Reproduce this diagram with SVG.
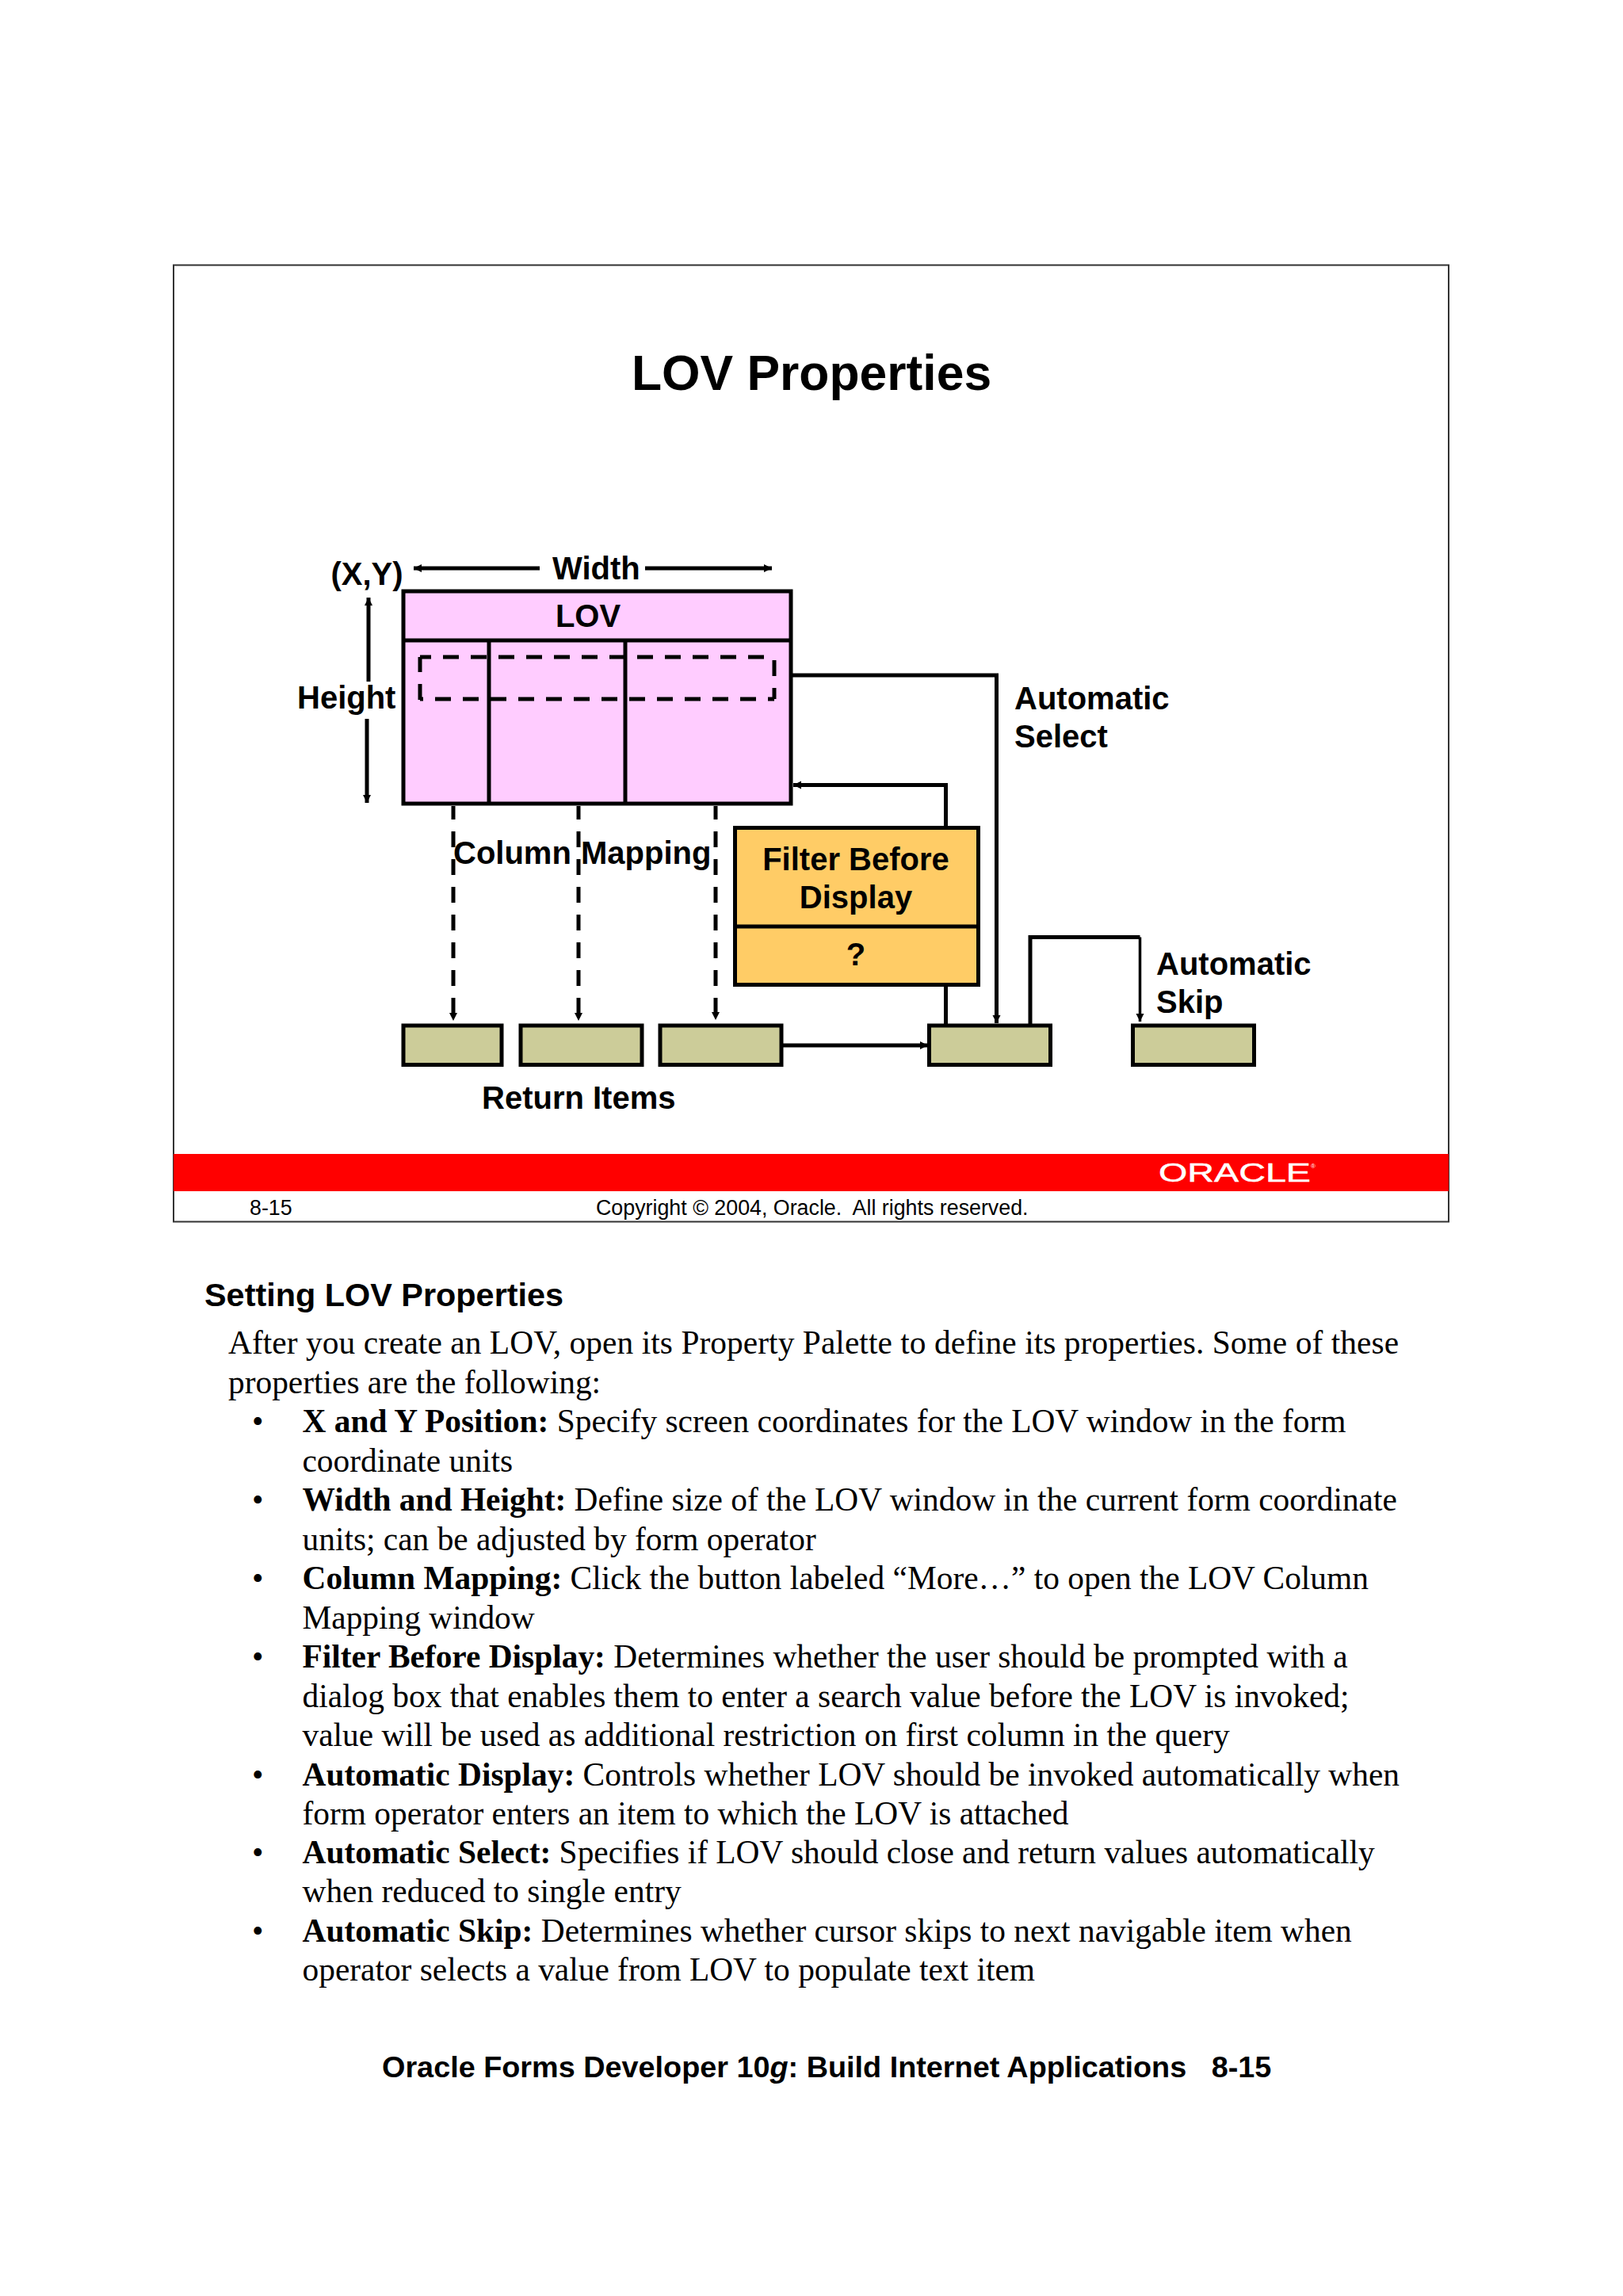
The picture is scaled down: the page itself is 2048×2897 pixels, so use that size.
<svg xmlns="http://www.w3.org/2000/svg" width="2048" height="2897" viewBox="0 0 2048 2897">
<style>
.l{font:bold 40px "Liberation Sans",Arial,sans-serif;fill:#000}
.m{text-anchor:middle}
.b{font:41.4px "Liberation Serif","Times New Roman",serif;fill:#000}
.b tspan.k{font-weight:bold}
.f{font:26.8px "Liberation Sans",Arial,sans-serif;fill:#000}
.s{fill:none;stroke:#000;stroke-width:5}
.t{fill:none;stroke:#000;stroke-width:5}
.n{fill:none;stroke:#000;stroke-width:3.500}
.d{fill:none;stroke:#000;stroke-width:5;stroke-dasharray:20 15}
.box{stroke:#000;stroke-width:5}
.item{fill:#CCCC99;stroke:#000;stroke-width:5}
</style>
<defs>
<marker id="a" markerUnits="userSpaceOnUse" markerWidth="12" markerHeight="12" refX="10" refY="5" orient="auto-start-reverse"><path d="M0 0L10 5L0 10Z" fill="#000"/></marker>
</defs>
<rect width="2048" height="2897" fill="#fff"/>
<g id="slide">
<rect x="219" y="334.500" width="1609" height="1207" fill="#fff" stroke="#333" stroke-width="2"/>
<rect x="219" y="1456" width="1609" height="47" fill="#f00"/>
<text x="1462" y="1491" font-family="Liberation Sans, Arial, sans-serif" font-size="34" fill="#fff" stroke="#fff" stroke-width="0.500" textLength="192" lengthAdjust="spacingAndGlyphs">ORACLE</text>
<text x="1654" y="1474" font-family="Liberation Sans, Arial, sans-serif" font-size="8" fill="#fff">®</text>
<text x="1024" y="492" class="m" font-family="Liberation Sans, Arial, sans-serif" font-weight="bold" font-size="62.400">LOV Properties</text>
<text x="315" y="1533" class="f">8-15</text>
<text x="752" y="1533" class="f">Copyright © 2004, Oracle.&#160; All rights reserved.</text>
</g>
<g id="lov">
<rect x="509" y="746" width="489" height="268" fill="#FFCCFF" class="box"/>
<path class="s" d="M509 808H998M617 808V1014M789 808V1014"/>
<path class="d" d="M530 883V829"/>
<path class="d" stroke-dashoffset="6" d="M530 829H977"/>
<path class="d" stroke-dashoffset="31" d="M977 829V882"/>
<path class="d" stroke-dashoffset="12" d="M977 882H530"/>
<text x="742" y="791" class="l m">LOV</text>
</g>
<g id="filter">
<rect x="927.500" y="1044.500" width="307" height="198" fill="#FFCC66" class="box"/>
<path class="s" d="M927.500 1169H1234.500"/>
<text x="1080" y="1098" class="l m">Filter Before</text>
<text x="1080" y="1146" class="l m">Display</text>
<text x="1080" y="1218" class="l m">?</text>
</g>
<g id="item1"><rect x="509" y="1294" width="124" height="49.500" class="item"/></g>
<g id="item2"><rect x="657" y="1294" width="153" height="49.500" class="item"/></g>
<g id="item3"><rect x="833" y="1294" width="153" height="49.500" class="item"/></g>
<g id="item4"><rect x="1172.500" y="1294" width="153" height="49.500" class="item"/></g>
<g id="item5"><rect x="1429.500" y="1294" width="153" height="49.500" class="item"/></g>
<g id="connectors">
<path class="t" marker-start="url(#a)" d="M522 717H681"/>
<path class="t" marker-end="url(#a)" d="M814 717H974"/>
<path class="t" marker-start="url(#a)" d="M465 754V860"/>
<path class="t" marker-end="url(#a)" d="M463 907V1013"/>
<path class="d" stroke-dashoffset="3" marker-end="url(#a)" d="M572 1017V1288"/>
<path class="d" stroke-dashoffset="3" marker-end="url(#a)" d="M730 1017V1288"/>
<path class="d" stroke-dashoffset="3" marker-end="url(#a)" d="M903 1017V1287"/>
<path class="t" marker-end="url(#a)" d="M1000 852H1257.500V1291"/>
<path class="t" marker-end="url(#a)" d="M1193.500 1042V990.500H1001"/>
<path class="t" d="M1193.500 1245V1293"/>
<path class="t" marker-end="url(#a)" d="M986 1319H1171"/>
<path class="t" d="M1300 1293V1182.500H1438.500"/>
<path class="n" marker-end="url(#a)" d="M1438.500 1182.500V1289"/>
</g>
<g id="labels">
<text x="463" y="738" class="l m">(X,Y)</text>
<text x="697" y="731" class="l">Width</text>
<text x="375" y="894" class="l">Height</text>
<text x="572" y="1090" class="l">Column</text>
<text x="733" y="1090" class="l">Mapping</text>
<text x="608" y="1399" class="l">Return Items</text>
<text x="1280" y="895" class="l">Automatic</text>
<text x="1280" y="943" class="l">Select</text>
<text x="1459" y="1230" class="l">Automatic</text>
<text x="1459" y="1278" class="l">Skip</text>
</g>
<g id="notes">
<text x="258" y="1648" font-family="Liberation Sans, Arial, sans-serif" font-weight="bold" font-size="41.400">Setting LOV Properties</text>
<text class="b" x="288" y="1708" textLength="1477">After you create an LOV, open its Property Palette to define its properties. Some of these</text>
<text class="b" x="288" y="1757.500">properties are the following:</text>
<text class="b" x="318" y="1807">•</text><text class="b" x="381.500" y="1807"><tspan class="k">X and Y Position:</tspan> Specify screen coordinates for the LOV window in the form</text>
<text class="b" x="381.500" y="1856.500">coordinate units</text>
<text class="b" x="318" y="1906">•</text><text class="b" x="381.500" y="1906"><tspan class="k">Width and Height:</tspan> Define size of the LOV window in the current form coordinate</text>
<text class="b" x="381.500" y="1955.500">units; can be adjusted by form operator</text>
<text class="b" x="318" y="2005">•</text><text class="b" x="381.500" y="2005"><tspan class="k">Column Mapping:</tspan> Click the button labeled “More…” to open the LOV Column</text>
<text class="b" x="381.500" y="2054.500">Mapping window</text>
<text class="b" x="318" y="2104">•</text><text class="b" x="381.500" y="2104"><tspan class="k">Filter Before Display:</tspan> Determines whether the user should be prompted with a</text>
<text class="b" x="381.500" y="2153.500">dialog box that enables them to enter a search value before the LOV is invoked;</text>
<text class="b" x="381.500" y="2203">value will be used as additional restriction on first column in the query</text>
<text class="b" x="318" y="2252.500">•</text><text class="b" x="381.500" y="2252.500"><tspan class="k">Automatic Display:</tspan> Controls whether LOV should be invoked automatically when</text>
<text class="b" x="381.500" y="2302">form operator enters an item to which the LOV is attached</text>
<text class="b" x="318" y="2351">•</text><text class="b" x="381.500" y="2351"><tspan class="k">Automatic Select:</tspan> Specifies if LOV should close and return values automatically</text>
<text class="b" x="381.500" y="2400">when reduced to single entry</text>
<text class="b" x="318" y="2449.500">•</text><text class="b" x="381.500" y="2449.500"><tspan class="k">Automatic Skip:</tspan> Determines whether cursor skips to next navigable item when</text>
<text class="b" x="381.500" y="2499">operator selects a value from LOV to populate text item</text>
<text x="482" y="2621" font-family="Liberation Sans, Arial, sans-serif" font-weight="bold" font-size="37.800">Oracle Forms Developer 10<tspan font-style="italic">g</tspan>: Build Internet Applications&#160;&#160; 8-15</text>
</g>
</svg>
